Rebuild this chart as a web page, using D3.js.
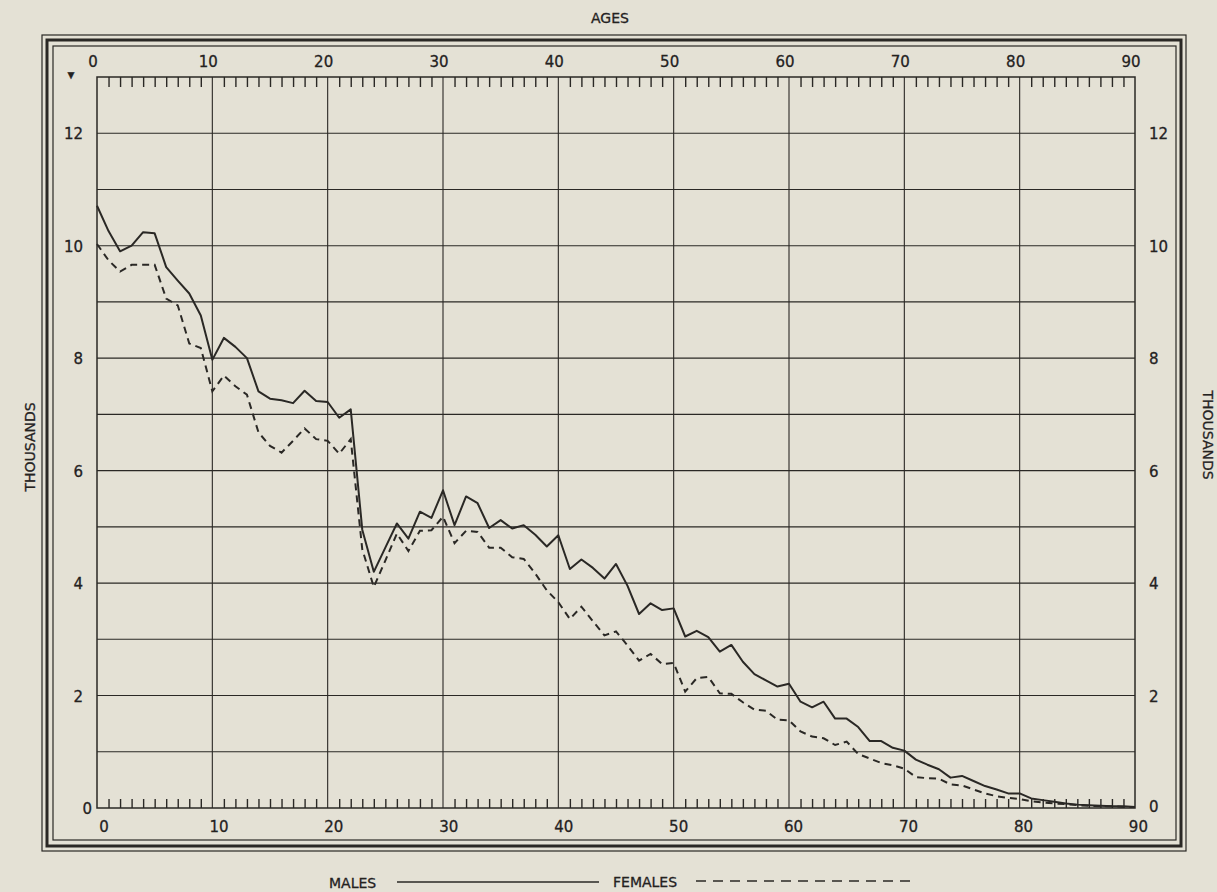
<!DOCTYPE html>
<html>
<head>
<meta charset="utf-8">
<script src="https://cdn.jsdelivr.net/npm/d3@7"></script>
<style>
  html, body { margin: 0; padding: 0; background: #e4e1d5; }
  svg { display: block; }
  text { font-family: "DejaVu Sans", sans-serif; fill: #24221f; stroke: #24221f; stroke-width: 0.3; }
</style>
</head>
<body>
<div id="chart"></div>
<script>
// ages 0..90, thousands of persons
const ages = d3.range(0, 91);
const males = [
  10.71, 10.26, 9.90, 10.00, 10.24, 10.22, 9.62, 9.38, 9.15, 8.76,
  7.97, 8.36, 8.20, 8.00, 7.41, 7.28, 7.25, 7.20, 7.42, 7.24,
  7.22, 6.94, 7.09, 4.95, 4.20, 4.63, 5.06, 4.79, 5.27, 5.16,
  5.65, 5.03, 5.54, 5.42, 4.98, 5.12, 4.97, 5.03, 4.86, 4.65,
  4.85, 4.25, 4.42, 4.27, 4.08, 4.34, 3.95, 3.45, 3.64, 3.52,
  3.55, 3.05, 3.15, 3.04, 2.78, 2.90, 2.60, 2.38, 2.27, 2.16,
  2.21, 1.89, 1.79, 1.89, 1.59, 1.59, 1.44, 1.19, 1.19, 1.07,
  1.02, 0.86, 0.77, 0.69, 0.54, 0.57, 0.48, 0.39, 0.33, 0.26,
  0.26, 0.17, 0.14, 0.11, 0.08, 0.06, 0.05, 0.04, 0.03, 0.03,
  0.02
];
const females = [
  10.03, 9.74, 9.54, 9.66, 9.66, 9.66, 9.06, 8.94, 8.26, 8.18,
  7.41, 7.69, 7.50, 7.35, 6.68, 6.44, 6.32, 6.53, 6.75, 6.56,
  6.53, 6.30, 6.56, 4.60, 3.93, 4.40, 4.88, 4.57, 4.93, 4.94,
  5.18, 4.71, 4.93, 4.91, 4.63, 4.63, 4.46, 4.43, 4.17, 3.87,
  3.66, 3.36, 3.58, 3.32, 3.07, 3.14, 2.89, 2.62, 2.74, 2.56,
  2.58, 2.07, 2.31, 2.33, 2.04, 2.03, 1.88, 1.75, 1.73, 1.57,
  1.56, 1.36, 1.27, 1.24, 1.12, 1.18, 0.96, 0.88, 0.80, 0.76,
  0.70, 0.55, 0.53, 0.52, 0.42, 0.40, 0.33, 0.26, 0.21, 0.18,
  0.16, 0.12, 0.10, 0.08, 0.07, 0.05, 0.04, 0.03, 0.03, 0.02,
  0.02
];
const ageTicks = d3.range(0, 91, 10);
const valueTicks = [0, 2, 4, 6, 8, 10, 12];

const width = 1217, height = 892;
const ink = "#2a2825";
const plotLeft = 97, plotRight = 1135, plotTop = 77, plotBottom = 808;

const svg = d3.select("#chart")
  .append("svg")
    .attr("width", width)
    .attr("height", height);

const x = d3.scaleLinear().domain([0, 90]).range([plotLeft, plotRight]);
const y = d3.scaleLinear().domain([0, 13]).range([plotBottom, plotTop]);

// triple frame
const frames = [
  {x0: 42, y0: 35, x1: 1186, y1: 851, w: 1.2},
  {x0: 47, y0: 40, x1: 1181, y1: 846, w: 3},
  {x0: 53, y0: 46, x1: 1176, y1: 840, w: 1.2}
];
svg.selectAll("rect.frame")
  .data(frames)
  .enter()
  .append("rect")
    .attr("class", "frame")
    .attr("x", d => d.x0)
    .attr("y", d => d.y0)
    .attr("width", d => d.x1 - d.x0)
    .attr("height", d => d.y1 - d.y0)
    .attr("fill", "none")
    .attr("stroke", ink)
    .attr("stroke-width", d => d.w);

// grid
svg.append("g")
  .selectAll("line")
  .data(d3.range(1, 13))
  .enter()
  .append("line")
    .attr("x1", plotLeft).attr("x2", plotRight)
    .attr("y1", d => y(d)).attr("y2", d => y(d))
    .attr("stroke", ink)
    .attr("stroke-width", 1.1);

svg.append("g")
  .selectAll("line")
  .data(ageTicks.slice(1, -1))
  .enter()
  .append("line")
    .attr("x1", d => x(d)).attr("x2", d => x(d))
    .attr("y1", plotTop).attr("y2", plotBottom)
    .attr("stroke", ink)
    .attr("stroke-width", 1.1);

// yearly ticks, top and bottom
const yearTicks = ages.filter(a => a % 10 !== 0);
svg.append("g")
    .attr("transform", `translate(0,${plotTop})`)
    .call(d3.axisTop(x).tickValues(yearTicks).tickSize(-10).tickFormat(""))
    .call(g => g.select(".domain").remove())
    .selectAll("line").attr("stroke", ink).attr("stroke-width", 1.4);

svg.append("g")
    .attr("transform", `translate(0,${plotBottom})`)
    .call(d3.axisBottom(x).tickValues(yearTicks).tickSize(-9).tickFormat(""))
    .call(g => g.select(".domain").remove())
    .selectAll("line").attr("stroke", ink).attr("stroke-width", 1.4);

// plot border
svg.append("rect")
    .attr("x", plotLeft).attr("y", plotTop)
    .attr("width", plotRight - plotLeft).attr("height", plotBottom - plotTop)
    .attr("fill", "none")
    .attr("stroke", ink)
    .attr("stroke-width", 1.5);

// age labels
svg.append("g")
  .selectAll("text")
  .data(ageTicks)
  .enter()
  .append("text")
    .attr("x", d => x(d) - 4)
    .attr("y", plotTop - 10)
    .attr("text-anchor", "middle")
    .attr("font-size", 15)
    .text(d => d);

svg.append("g")
  .selectAll("text")
  .data(ageTicks)
  .enter()
  .append("text")
    .attr("x", d => x(d) + 7 - d * 0.04)
    .attr("y", plotBottom + 24)
    .attr("text-anchor", "middle")
    .attr("font-size", 15)
    .text(d => d);

// value labels
svg.append("g")
  .selectAll("text")
  .data(valueTicks)
  .enter()
  .append("text")
    .attr("x", d => d === 0 ? plotLeft - 5 : plotLeft - 14)
    .attr("y", d => y(d) + 6)
    .attr("text-anchor", "end")
    .attr("font-size", 15)
    .text(d => d);

svg.append("g")
  .selectAll("text")
  .data(valueTicks)
  .enter()
  .append("text")
    .attr("x", plotRight + 14)
    .attr("y", d => y(d) + (d === 0 ? 4 : 6))
    .attr("text-anchor", "start")
    .attr("font-size", 15)
    .text(d => d);

svg.append("text")
    .attr("x", 71).attr("y", 78)
    .attr("text-anchor", "middle")
    .attr("font-size", 9)
    .text("▼");

// titles
svg.append("text")
    .attr("x", 610).attr("y", 23)
    .attr("text-anchor", "middle")
    .attr("font-size", 14)
    .text("AGES");

svg.append("text")
    .attr("transform", "translate(35,447) rotate(-90)")
    .attr("text-anchor", "middle")
    .attr("font-size", 14)
    .text("THOUSANDS");

svg.append("text")
    .attr("transform", "translate(1203,435) rotate(90)")
    .attr("text-anchor", "middle")
    .attr("font-size", 14)
    .text("THOUSANDS");

// series
const line = d3.line()
  .x((d, i) => x(ages[i]))
  .y(d => y(d));

svg.append("path")
    .datum(males)
    .attr("d", line)
    .attr("fill", "none")
    .attr("stroke", ink)
    .attr("stroke-width", 2)
    .attr("stroke-linejoin", "round");

svg.append("path")
    .datum(females)
    .attr("d", line)
    .attr("fill", "none")
    .attr("stroke", ink)
    .attr("stroke-width", 2)
    .attr("stroke-dasharray", "7,5");

// legend
svg.append("text")
    .attr("x", 329).attr("y", 888)
    .attr("font-size", 14)
    .text("MALES");
svg.append("line")
    .attr("x1", 397).attr("x2", 599)
    .attr("y1", 882).attr("y2", 882)
    .attr("stroke", ink).attr("stroke-width", 1.6);
svg.append("text")
    .attr("x", 613).attr("y", 887)
    .attr("font-size", 14)
    .text("FEMALES");
svg.append("line")
    .attr("x1", 696).attr("x2", 910)
    .attr("y1", 881).attr("y2", 881)
    .attr("stroke", ink).attr("stroke-width", 1.6)
    .attr("stroke-dasharray", "10,7");
</script>
</body>
</html>
